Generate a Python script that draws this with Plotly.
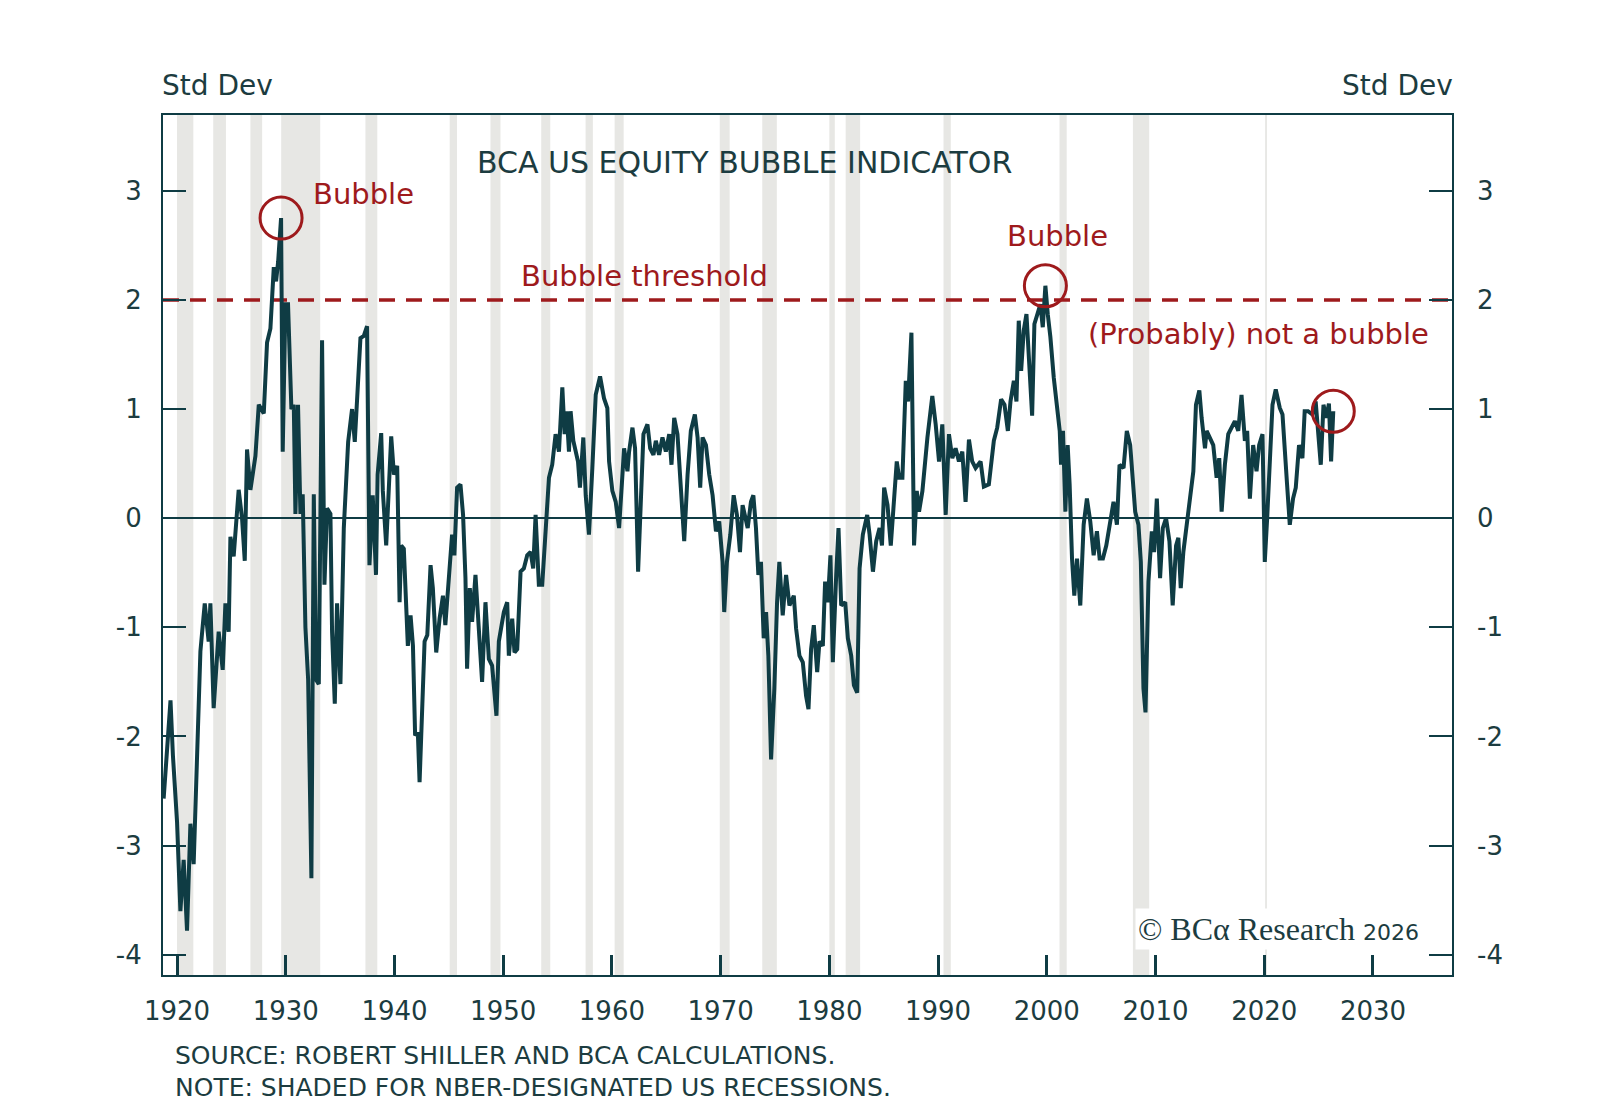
import plotly.graph_objects as go

# ---------------- data ----------------
years = [
    1918.77, 1919.40, 1919.62, 1920.00, 1920.31, 1920.61, 1920.92, 1921.23, 1921.53, 1922.15,
    1922.55, 1922.91, 1923.07, 1923.37, 1923.83, 1924.20, 1924.45, 1924.75, 1924.91, 1925.21,
    1925.67, 1925.98, 1926.23, 1926.44, 1926.75, 1927.21, 1927.52, 1927.98, 1928.28, 1928.59,
    1928.90, 1929.11, 1929.30, 1929.57, 1929.72, 1929.97, 1930.21, 1930.52, 1930.74, 1930.89,
    1931.13, 1931.35, 1931.56, 1931.81, 1932.06, 1932.36, 1932.58, 1932.79, 1933.04, 1933.34,
    1933.56, 1933.80, 1934.11, 1934.26, 1934.51, 1934.72, 1935.03, 1935.34, 1935.74, 1936.10,
    1936.35, 1936.72, 1936.87, 1937.18, 1937.48, 1937.70, 1938.00, 1938.30, 1938.45, 1938.78,
    1938.93, 1939.24, 1939.45, 1939.70, 1939.95, 1940.25, 1940.47, 1940.62, 1940.86, 1941.08,
    1941.23, 1941.48, 1941.70, 1941.90, 1942.15, 1942.31, 1942.52, 1942.77, 1943.02, 1943.32,
    1943.53, 1943.84, 1944.15, 1944.46, 1944.68, 1944.99, 1945.30, 1945.51, 1945.76, 1946.07,
    1946.31, 1946.53, 1946.68, 1946.93, 1947.14, 1947.45, 1947.66, 1948.06, 1948.37, 1948.68,
    1948.98, 1949.38, 1949.60, 1950.06, 1950.37, 1950.52, 1950.83, 1951.04, 1951.29, 1951.60,
    1951.90, 1952.21, 1952.52, 1952.76, 1952.98, 1953.28, 1953.59, 1953.90, 1954.21, 1954.51,
    1954.82, 1955.13, 1955.44, 1955.65, 1955.83, 1956.05, 1956.20, 1956.45, 1956.66, 1956.88,
    1957.06, 1957.37, 1957.59, 1957.89, 1958.20, 1958.51, 1958.91, 1959.27, 1959.58, 1959.74,
    1960.04, 1960.35, 1960.66, 1960.87, 1961.12, 1961.43, 1961.58, 1961.89, 1962.13, 1962.41,
    1962.66, 1962.90, 1963.27, 1963.52, 1963.82, 1964.04, 1964.34, 1964.65, 1964.96, 1965.27,
    1965.48, 1965.73, 1966.03, 1966.34, 1966.65, 1966.96, 1967.26, 1967.63, 1967.88, 1968.12,
    1968.34, 1968.65, 1968.95, 1969.26, 1969.57, 1969.87, 1970.18, 1970.33, 1970.58, 1970.89,
    1971.20, 1971.50, 1971.78, 1972.02, 1972.24, 1972.49, 1972.79, 1973.01, 1973.25, 1973.47,
    1973.71, 1973.96, 1974.18, 1974.39, 1974.64, 1974.94, 1975.19, 1975.40, 1975.71, 1976.02,
    1976.33, 1976.73, 1976.94, 1977.25, 1977.56, 1977.86, 1978.08, 1978.32, 1978.57, 1978.88,
    1979.09, 1979.40, 1979.61, 1979.86, 1980.10, 1980.32, 1980.63, 1980.84, 1981.09, 1981.46,
    1981.70, 1982.01, 1982.26, 1982.56, 1982.78, 1983.08, 1983.48, 1983.70, 1984.01, 1984.31,
    1984.62, 1984.84, 1985.04, 1985.35, 1985.65, 1985.96, 1986.20, 1986.42, 1986.72, 1987.03,
    1987.24, 1987.55, 1987.79, 1988.04, 1988.25, 1988.56, 1989.02, 1989.47, 1989.78, 1990.09,
    1990.39, 1990.70, 1991.00, 1991.31, 1991.61, 1991.92, 1992.23, 1992.53, 1992.84, 1993.14,
    1993.45, 1993.91, 1994.21, 1994.67, 1995.13, 1995.44, 1995.80, 1996.11, 1996.42, 1996.66,
    1996.97, 1997.21, 1997.42, 1997.64, 1997.88, 1998.13, 1998.34, 1998.65, 1998.86, 1999.11,
    1999.41, 1999.63, 1999.87, 2000.09, 2000.33, 2000.64, 2000.94, 2001.19, 2001.31, 2001.49,
    2001.71, 2001.92, 2002.10, 2002.32, 2002.53, 2002.78, 2003.08, 2003.39, 2003.69, 2004.00,
    2004.31, 2004.61, 2004.86, 2005.16, 2005.47, 2005.83, 2006.14, 2006.45, 2006.69, 2007.06,
    2007.36, 2007.67, 2007.91, 2008.13, 2008.43, 2008.65, 2008.89, 2009.08, 2009.35, 2009.66,
    2009.87, 2010.12, 2010.42, 2010.67, 2010.97, 2011.28, 2011.58, 2011.89, 2012.10, 2012.32,
    2012.56, 2012.87, 2013.17, 2013.48, 2013.72, 2014.03, 2014.24, 2014.55, 2014.70, 2015.01,
    2015.31, 2015.62, 2015.86, 2016.08, 2016.38, 2016.69, 2017.00, 2017.30, 2017.61, 2017.91,
    2018.22, 2018.43, 2018.68, 2018.98, 2019.29, 2019.53, 2019.84, 2020.05, 2020.27, 2020.51,
    2020.76, 2021.06, 2021.43, 2021.68, 2021.89, 2022.10, 2022.35, 2022.65, 2022.90, 2023.20,
    2023.51, 2023.72, 2024.03, 2024.43, 2024.73, 2024.95, 2025.20, 2025.45, 2025.70, 2025.95,
    2026.15, 2026.35,
]

std_dev = [
    -2.57, -1.67, -2.17, -2.78, -3.60, -3.13, -3.78, -2.80, -3.17, -1.22,
    -0.78, -1.13, -0.78, -1.74, -1.04, -1.39, -0.78, -1.04, -0.17, -0.35,
    0.26, 0.00, -0.39, 0.63, 0.26, 0.57, 1.04, 0.96, 1.61, 1.74,
    2.30, 2.17, 2.35, 2.75, 0.61, 1.96, 1.96, 1.00, 1.04, 0.04,
    1.04, 0.04, 0.22, -1.00, -1.48, -3.30, 0.22, -1.48, -1.52, 1.63,
    -0.61, 0.09, 0.04, -1.04, -1.70, -0.78, -1.52, -0.09, 0.70, 1.00,
    0.70, 1.52, 1.65, 1.67, 1.76, -0.43, 0.21, -0.52, 0.40, 0.78,
    0.25, -0.25, 0.28, 0.75, 0.40, 0.48, -0.77, -0.25, -0.28, -0.98,
    -1.17, -0.89, -1.17, -1.99, -1.96, -2.42, -1.87, -1.13, -1.07, -0.43,
    -0.64, -1.23, -0.92, -0.71, -0.98, -0.55, -0.15, -0.34, 0.28, 0.31,
    0.03, -0.55, -1.38, -0.64, -0.95, -0.52, -0.83, -1.50, -0.77, -1.29,
    -1.35, -1.81, -1.13, -0.86, -0.77, -1.26, -0.92, -1.23, -1.20, -0.49,
    -0.46, -0.34, -0.31, -0.46, 0.03, -0.61, -0.61, -0.18, 0.37, 0.49,
    0.77, 0.61, 1.20, 0.77, 0.98, 0.61, 0.98, 0.71, 0.61, 0.52,
    0.28, 0.74, 0.21, -0.15, 0.46, 1.13, 1.30, 1.10, 1.01, 0.52,
    0.25, 0.15, -0.09, 0.21, 0.64, 0.43, 0.61, 0.83, 0.64, -0.49,
    0.09, 0.77, 0.86, 0.64, 0.58, 0.71, 0.58, 0.74, 0.61, 0.77,
    0.49, 0.92, 0.77, 0.21, -0.21, 0.40, 0.80, 0.95, 0.74, 0.28,
    0.74, 0.67, 0.40, 0.21, -0.12, -0.03, -0.40, -0.86, -0.40, -0.15,
    0.21, 0.03, -0.31, 0.12, 0.03, -0.09, 0.15, 0.21, -0.09, -0.52,
    -0.40, -1.10, -0.86, -1.26, -2.21, -1.56, -0.77, -0.40, -0.89, -0.52,
    -0.80, -0.71, -1.01, -1.26, -1.32, -1.63, -1.75, -1.20, -0.98, -1.41,
    -1.13, -1.17, -0.58, -0.77, -0.34, -1.32, -0.52, -0.09, -0.80, -0.77,
    -1.10, -1.26, -1.53, -1.60, -0.46, -0.15, 0.03, -0.15, -0.49, -0.21,
    -0.09, -0.25, 0.28, 0.12, -0.25, 0.25, 0.52, 0.37, 0.37, 1.26,
    1.07, 1.70, -0.25, 0.25, 0.06, 0.25, 0.74, 1.12, 0.86, 0.52,
    0.86, 0.03, 0.77, 0.55, 0.64, 0.52, 0.61, 0.15, 0.72, 0.52,
    0.46, 0.52, 0.29, 0.31, 0.71, 0.83, 1.09, 1.04, 0.80, 1.07,
    1.26, 1.07, 1.81, 1.35, 1.72, 1.87, 1.50, 0.94, 1.78, 1.87,
    1.96, 1.75, 2.13, 1.87, 1.66, 1.29, 0.98, 0.80, 0.49, 0.80,
    0.06, 0.67, 0.31, -0.37, -0.71, -0.37, -0.80, -0.06, 0.18, -0.03,
    -0.34, -0.12, -0.37, -0.37, -0.25, -0.06, 0.15, -0.06, 0.49, 0.46,
    0.80, 0.67, 0.28, 0.06, -0.06, -0.40, -1.56, -1.78, -0.58, -0.12,
    -0.31, 0.18, -0.55, -0.09, 0.00, -0.21, -0.80, -0.25, -0.18, -0.64,
    -0.31, -0.06, 0.18, 0.43, 1.04, 1.17, 0.92, 0.64, 0.80, 0.74,
    0.67, 0.37, 0.55, 0.06, 0.49, 0.77, 0.83, 0.89, 0.80, 1.13,
    0.71, 0.80, 0.18, 0.67, 0.43, 0.67, 0.77, -0.40, 0.00, 0.49,
    1.04, 1.18, 1.01, 0.95, 0.58, 0.31, -0.06, 0.18, 0.28, 0.67,
    0.55, 0.98, 0.98, 0.95, 1.07, 0.80, 0.49, 1.04, 0.92, 1.05,
    0.52, 0.98,
]

# NBER recessions (start / end, decimal years)
recession_start = [1920.00, 1923.33, 1926.75, 1929.58, 1937.33, 1945.08, 1948.83, 1953.50,
                   1957.58, 1960.25, 1969.92, 1973.83, 1980.00, 1981.50, 1990.50, 2001.17,
                   2007.92, 2020.08]
recession_end = [1921.50, 1924.50, 1927.83, 1933.17, 1938.42, 1945.75, 1949.75, 1954.33,
                 1958.25, 1961.08, 1970.83, 1975.17, 1980.50, 1982.83, 1991.17, 2001.83,
                 2009.42, 2020.25]

bubble_threshold = 2
x_ticks = [1920, 1930, 1940, 1950, 1960, 1970, 1980, 1990, 2000, 2010, 2020, 2030]
y_ticks = [-4, -3, -2, -1, 0, 1, 2, 3]
y_tick_text = ["-4", "-3", "-2", "-1", "0", "1", "2", "3"]

# ---------------- styling ----------------
TEAL = "#0f3c44"
TEXT = "#1c3c40"
RED = "#9e1a1c"
SHADE = "#e7e7e4"
FONT = "DejaVu Sans"
X_RANGE = [1918.71, 2037.27]
Y_RANGE = [-4.186, 3.695]

fig = go.Figure()
fig.add_trace(go.Scatter(x=years, y=std_dev, mode="lines",
                         line=dict(color=TEAL, width=4), hoverinfo="skip",
                         showlegend=False))
# helper trace so the right-hand axis is drawn
fig.add_trace(go.Scatter(x=[None], y=[None], yaxis="y2", showlegend=False,
                         hoverinfo="skip"))

shapes = []
for s, e in zip(recession_start, recession_end):
    shapes.append(dict(type="rect", xref="x", yref="paper", x0=s, x1=e, y0=0, y1=1,
                       fillcolor=SHADE, line=dict(width=0), layer="below"))
shapes.append(dict(type="line", xref="paper", yref="y", x0=0, x1=1,
                   y0=bubble_threshold, y1=bubble_threshold,
                   line=dict(color=RED, width=3.5, dash="16px,11px"), layer="below"))


# circles around the highlighted points (anchored on the data)
def peak(lo, hi):
    pts = [(y, x) for x, y in zip(years, std_dev) if lo <= x <= hi]
    v, x = max(pts)
    return x, v


circle_pts = [peak(1925, 1935), peak(1995, 2003), (years[-1], std_dev[-1])]
for cx, cy in circle_pts:
    shapes.append(dict(type="circle", xref="x", yref="y", xsizemode="pixel",
                       ysizemode="pixel", xanchor=cx, yanchor=cy,
                       x0=-21, x1=21, y0=-21, y1=21,
                       line=dict(color=RED, width=3), layer="above"))

red_font = dict(family=FONT, size=29, color=RED)
annotations = [
    dict(text="BCA US EQUITY BUBBLE INDICATOR", xref="paper", yref="paper",
         x=0.4515, y=0.945, showarrow=False, xanchor="center", yanchor="middle",
         font=dict(family=FONT, size=30, color=TEXT)),
    dict(text="Bubble", xref="x", yref="y", x=1932.3, y=2.97, showarrow=False,
         xanchor="left", yanchor="middle", font=red_font),
    dict(text="Bubble", xref="x", yref="y", x=2001.0, y=2.59, showarrow=False,
         xanchor="center", yanchor="middle", font=red_font),
    dict(text="Bubble threshold", xref="x", yref="y", x=1963.0, y=2.22, showarrow=False,
         xanchor="center", yanchor="middle", font=red_font),
    dict(text="(Probably) not a bubble", xref="x", yref="y", x=2019.5, y=1.69,
         showarrow=False, xanchor="center", yanchor="middle", font=red_font),
    dict(text="Std Dev", xref="paper", yref="paper", x=-0.002, y=1.034, showarrow=False,
         xanchor="left", yanchor="middle", font=dict(family=FONT, size=28, color=TEXT)),
    dict(text="Std Dev", xref="paper", yref="paper", x=1.002, y=1.034, showarrow=False,
         xanchor="right", yanchor="middle", font=dict(family=FONT, size=28, color=TEXT)),
    dict(text="© BCα Research <span style='font-family:DejaVu Sans;font-size:22px'>2026</span>",
         xref="paper", yref="paper", x=0.977, y=0.0535, showarrow=False,
         xanchor="right", yanchor="middle", bgcolor="white", borderpad=2,
         font=dict(family="Liberation Serif", size=32, color=TEXT)),
    dict(text="SOURCE: ROBERT SHILLER AND BCA CALCULATIONS.", xref="paper",
         yref="paper", x=0.008, y=-0.0935, showarrow=False, xanchor="left",
         yanchor="middle", font=dict(family=FONT, size=25, color=TEXT)),
    dict(text="NOTE: SHADED FOR NBER-DESIGNATED US RECESSIONS.", xref="paper",
         yref="paper", x=0.008, y=-0.131, showarrow=False, xanchor="left",
         yanchor="middle", font=dict(family=FONT, size=25, color=TEXT)),
]

tick_font = dict(family=FONT, size=26, color=TEXT)
fig.update_layout(
    width=1600, height=1107,
    margin=dict(l=155, r=156, t=107, b=140),
    paper_bgcolor="white", plot_bgcolor="white",
    font=dict(family=FONT, color=TEXT),
    shapes=shapes, annotations=annotations, showlegend=False,
    xaxis=dict(range=X_RANGE, tickvals=x_ticks,
               ticktext=[str(t) for t in x_ticks], ticks="inside", ticklen=20,
               tickwidth=3, tickcolor=TEAL, showline=True, mirror=True,
               linecolor=TEAL, linewidth=2, showgrid=False, zeroline=False,
               tickfont=tick_font, ticklabelstandoff=12),
    yaxis=dict(range=Y_RANGE, tickvals=y_ticks, ticktext=y_tick_text,
               ticks="inside", ticklen=23,
               tickwidth=2, tickcolor=TEAL, showline=True, mirror=True,
               linecolor=TEAL, linewidth=2, showgrid=False, zeroline=True,
               zerolinecolor=TEAL, zerolinewidth=1.6,
               tickfont=tick_font, ticklabelstandoff=14),
    yaxis2=dict(range=Y_RANGE, tickvals=y_ticks, ticktext=y_tick_text,
                overlaying="y", side="right",
                ticks="inside", ticklen=23, tickwidth=2, tickcolor=TEAL,
                showline=False, showgrid=False, zeroline=False,
                tickfont=tick_font, ticklabelstandoff=24),
)

fig.write_html("out.html")
